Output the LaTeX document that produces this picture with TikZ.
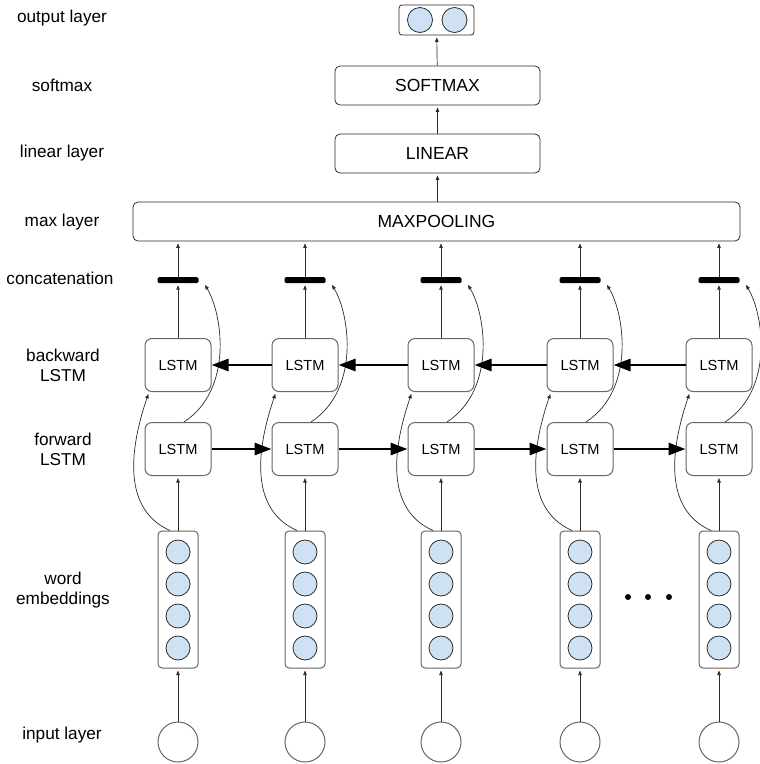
\documentclass[tikz,border=0pt]{standalone}
\usepackage{fontspec}
\setmainfont{Liberation Sans}
\usepackage{tikz}
\usetikzlibrary{arrows.meta}
\definecolor{cellblue}{HTML}{CFE2F3}
\definecolor{edgegray}{HTML}{666666}
\definecolor{inkgray}{HTML}{2B2B2B}

\begin{document}
\begin{tikzpicture}[x=1pt,y=-1pt,
  lbl/.style={font=\fontsize{17.2}{20}\selectfont, align=center},
  layer/.style={draw=inkgray, line width=0.8pt, rounded corners=5pt, minimum height=39pt, inner sep=0pt, font=\fontsize{17.5}{20}\selectfont},
  lstm/.style={draw=edgegray, line width=1pt, rounded corners=7pt, minimum width=66pt, minimum height=53pt, inner sep=0pt, font=\fontsize{14.6}{17}\selectfont},
  embbox/.style={draw=edgegray, line width=1pt, rounded corners=4pt, minimum width=40pt, minimum height=137pt, inner sep=0pt},
  cell/.style={circle, draw=inkgray, line width=0.8pt, fill=cellblue, minimum size=24pt, inner sep=0pt},
  inp/.style={circle, draw=edgegray, line width=1pt, minimum size=40pt, inner sep=0pt},
  bar/.style={fill=black, rounded corners=1.5pt, minimum width=41pt, minimum height=6pt, inner sep=0pt},
  link/.style={-{Triangle[length=4.5pt,width=3.5pt]}, line width=0.7pt, draw=inkgray, shorten >=2pt},
  recur/.style={-{Triangle[length=17pt,width=12pt]}, line width=2.8pt},
]
\useasboundingbox (0,0) rectangle (760,764);

% row labels
\node[lbl] (l-out) at (62,18) {output layer};
\node[lbl] (l-soft) at (62,85) {softmax};
\node[lbl] (l-lin) at (62,153) {linear layer};
\node[lbl] (l-max) at (62,222) {max layer};
\node[lbl] (l-cat) at (60,278) {concatenation};
\node[lbl] (l-bwd) at (63,365) {backward\\LSTM};
\node[lbl] (l-fwd) at (63,449) {forward\\LSTM};
\node[lbl] (l-emb) at (63,590) {word\\embeddings};
\node[lbl] (l-in) at (62,735) {input layer};

% top of the network
\node[draw=inkgray, line width=0.8pt, rounded corners=3pt, minimum width=75pt, minimum height=30pt] (out) at (436.5,20) {};
\node[cell, minimum size=25pt] (o1) at (420,20) {};
\node[cell, minimum size=25pt] (o2) at (454.5,20) {};
\node[layer, minimum width=205pt] (softmax) at (437.5,85.5) {SOFTMAX};
\node[layer, minimum width=205pt] (linear) at (437.5,153.5) {LINEAR};
\node[layer, minimum width=607pt] (maxpool) at (436.5,221.5) {MAXPOOLING};

\draw[link] (softmax) -- (out);
\draw[link] (linear) -- (softmax);
\draw[link] (maxpool.north -| linear) -- (linear);

% one column per word
\foreach \c [count=\i] in {178,305,441,580,719} {
  \node[bar] (cat\i) at (\c,280) {};
  \node[lstm] (bwd\i) at (\c,365) {LSTM};
  \node[lstm] (fwd\i) at (\c,449) {LSTM};
  \node[embbox] (emb\i) at (\c,599.5) {};
  \foreach \k [count=\j] in {552,584,616,648}
    \node[cell] (e\i-\j) at (\c,\k) {};
  \node[inp] (in\i) at (\c,742) {};

  \draw[link] (in\i) -- (emb\i);
  \draw[link] (emb\i) -- (fwd\i);
  \draw[link] (bwd\i) -- (cat\i);
  \draw[link] (cat\i) -- (cat\i |- maxpool.south);
  \draw[link] ([xshift=-8pt]emb\i.north) .. controls +(-52,-23) and +(-16,47) .. ([xshift=-29pt]bwd\i.south);
  \draw[link] ([xshift=6pt]fwd\i.north) .. controls +(49,-32) and +(19,32) .. ([xshift=26pt]cat\i.south);
}

% recurrent connections
\foreach \i [evaluate=\i as \j using int(\i+1)] in {1,...,4} {
  \draw[recur] (fwd\i) -- (fwd\j);
  \draw[recur] (bwd\j) -- (bwd\i);
}

\foreach \x in {628,648,669} \fill (\x,597) circle (3);
\end{tikzpicture}
\end{document}
